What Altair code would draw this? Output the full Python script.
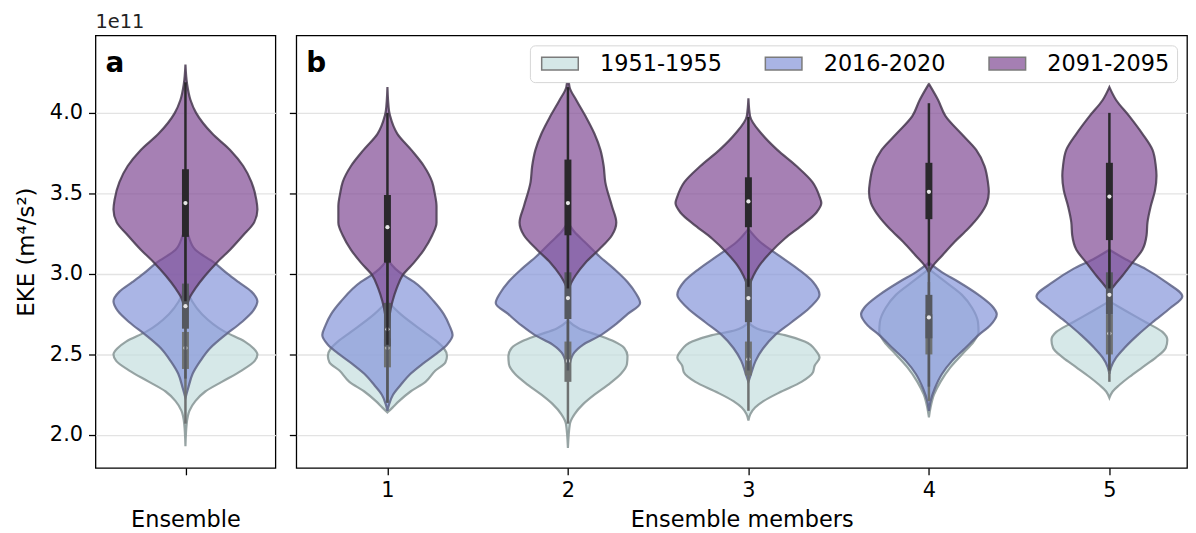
import altair as alt
import pandas as pd

PERIODS = ["1951-1955", "2016-2020", "2091-2095"]
FILL = ["#c4dede", "#8695da", "#804a94"]
STROKE = ["#869494", "#5e6386", "#47384f"]
BOXC = ["#6f7272", "#55585f", "#2a282c"]
GROUPS = ["Ensemble", "1", "2", "3", "4", "5"]

# Violin outlines: EKE level (1e11 m^4/s^2) and density half-width
ens_2091_y = [4.30, 4.18, 4.08, 4.00, 3.87, 3.77, 3.67, 3.57, 3.46, 3.40, 3.32, 3.24, 3.15, 3.07, 2.99, 2.91, 2.85, 2.79, 2.75]
ens_2091_w = [0, .009, .028, .059, .150, .248, .321, .367, .394, .400, .382, .321, .248, .174, .110, .055, .022, .007, 0]
ens_2016_y = [3.28, 3.24, 3.15, 3.07, 3.00, 2.95, 2.89, 2.83, 2.77, 2.70, 2.62, 2.54, 2.46, 2.38, 2.29, 2.23]
ens_2016_w = [0, .015, .055, .160, .235, .294, .367, .400, .376, .312, .220, .138, .083, .040, .015, 0]
ens_1951_y = [2.95, 2.91, 2.83, 2.75, 2.64, 2.58, 2.54, 2.50, 2.46, 2.40, 2.33, 2.27, 2.21, 2.15, 2.07, 1.93]
ens_1951_w = [0, .009, .037, .092, .220, .330, .376, .400, .385, .312, .202, .110, .055, .022, .007, 0]

m1_2091_y = [4.16, 4.01, 3.98, 3.87, 3.77, 3.67, 3.57, 3.50, 3.42, 3.32, 3.24, 3.15, 3.07, 2.99, 2.91, 2.83, 2.75, 2.66, 2.60]
m1_2091_w = [0, .009, .015, .055, .132, .202, .248, .262, .272, .272, .248, .202, .147, .083, .051, .028, .013, .006, 0]
m1_2016_y = [3.09, 3.03, 2.99, 2.95, 2.83, 2.75, 2.68, 2.62, 2.56, 2.50, 2.44, 2.38, 2.31, 2.25, 2.19, 2.15]
m1_2016_w = [0, .046, .092, .147, .257, .312, .343, .361, .330, .266, .193, .128, .073, .031, .009, 0]
m1_1951_y = [2.83, 2.75, 2.64, 2.58, 2.54, 2.49, 2.45, 2.40, 2.33, 2.27, 2.21, 2.17, 2.14]
m1_1951_w = [0, .073, .202, .275, .312, .330, .321, .266, .211, .128, .064, .028, 0]

m2_2091_y = [4.26, 4.16, 4.08, 3.98, 3.87, 3.77, 3.67, 3.57, 3.42, 3.32, 3.24, 3.15, 3.07, 2.99, 2.92, 2.88]
m2_2091_w = [0, .009, .046, .097, .147, .180, .198, .207, .244, .268, .244, .171, .097, .042, .009, 0]
m2_2016_y = [3.32, 3.26, 3.20, 3.11, 3.03, 2.95, 2.88, 2.82, 2.75, 2.68, 2.62, 2.56, 2.50, 2.42, 2.33]
m2_2016_w = [0, .037, .092, .174, .257, .330, .376, .400, .330, .257, .183, .083, .028, .007, 0]
m2_1951_y = [2.71, 2.66, 2.62, 2.58, 2.54, 2.49, 2.44, 2.38, 2.31, 2.25, 2.19, 2.13, 2.07, 1.92]
m2_1951_w = [0, .064, .165, .257, .312, .330, .327, .294, .220, .147, .083, .037, .011, 0]

m3_2091_y = [4.09, 3.98, 3.87, 3.77, 3.67, 3.57, 3.48, 3.44, 3.38, 3.30, 3.22, 3.13, 3.05, 2.99, 2.93, 2.91]
m3_2091_w = [0, .009, .073, .160, .266, .355, .394, .404, .376, .294, .202, .119, .059, .028, .006, 0]
m3_2016_y = [3.28, 3.20, 3.11, 3.03, 2.95, 2.87, 2.79, 2.70, 2.62, 2.54, 2.46, 2.38, 2.33]
m3_2016_w = [0, .064, .174, .275, .358, .394, .339, .239, .147, .083, .040, .015, 0]
m3_1951_y = [2.70, 2.65, 2.62, 2.58, 2.52, 2.48, 2.43, 2.39, 2.33, 2.27, 2.21, 2.17, 2.13, 2.09]
m3_1951_w = [0, .073, .202, .312, .376, .394, .367, .358, .294, .183, .083, .037, .011, 0]

m4_2091_y = [4.18, 4.08, 3.98, 3.87, 3.77, 3.67, 3.57, 3.51, 3.44, 3.36, 3.28, 3.20, 3.11, 3.05, 3.01]
m4_2091_w = [0, .051, .092, .180, .262, .308, .327, .332, .321, .279, .217, .143, .070, .022, 0]
m4_2016_y = [3.07, 3.01, 2.95, 2.87, 2.79, 2.75, 2.68, 2.62, 2.54, 2.46, 2.38, 2.29, 2.21, 2.15]
m4_2016_w = [0, .073, .165, .275, .358, .376, .339, .275, .202, .128, .073, .033, .009, 0]
m4_1951_y = [3.03, 2.95, 2.87, 2.79, 2.70, 2.64, 2.58, 2.50, 2.42, 2.33, 2.25, 2.17, 2.11]
m4_1951_w = [0, .092, .183, .239, .272, .275, .248, .183, .119, .064, .028, .009, 0]

m5_2091_y = [4.16, 4.08, 3.98, 3.87, 3.77, 3.67, 3.61, 3.52, 3.42, 3.32, 3.24, 3.15, 3.07, 2.99, 2.93, 2.89]
m5_2091_w = [0, .037, .110, .183, .239, .257, .261, .253, .229, .211, .206, .183, .128, .073, .028, 0]
m5_2016_y = [3.15, 3.09, 3.03, 2.95, 2.86, 2.79, 2.70, 2.62, 2.54, 2.48, 2.42, 2.38]
m5_2016_w = [0, .092, .202, .312, .404, .339, .239, .156, .083, .037, .009, 0]
m5_1951_y = [2.83, 2.77, 2.70, 2.64, 2.59, 2.54, 2.48, 2.42, 2.36, 2.31, 2.27, 2.23]
m5_1951_w = [0, .092, .202, .294, .321, .312, .257, .183, .110, .055, .018, 0]

# Inner box statistics per group (Ensemble, 1..5)
Q1_1951 = [2.41, 2.42, 2.33, 2.37, 2.50, 2.50]
Q3_1951 = [2.64, 2.60, 2.58, 2.58, 2.75, 2.75]
MED_1951 = [2.54, 2.54, 2.46, 2.47, 2.65, 2.63]
LO_1951 = [2.07, 2.20, 2.07, 2.15, 2.21, 2.33]
HI_1951 = [2.95, 2.83, 2.70, 2.70, 2.95, 2.80]

Q1_2016 = [2.66, 2.55, 2.72, 2.70, 2.60, 2.75]
Q3_2016 = [2.94, 2.82, 3.01, 2.97, 2.87, 3.01]
MED_2016 = [2.80, 2.656, 2.85, 2.85, 2.73, 2.87]
LO_2016 = [2.35, 2.20, 2.40, 2.40, 2.30, 2.40]
HI_2016 = [3.22, 3.09, 3.25, 3.25, 3.05, 3.15]

Q1_2091 = [3.23, 3.07, 3.24, 3.29, 3.34, 3.21]
Q3_2091 = [3.65, 3.49, 3.71, 3.60, 3.69, 3.69]
MED_2091 = [3.44, 3.29, 3.44, 3.45, 3.51, 3.48]
LO_2091 = [2.83, 2.56, 2.91, 2.92, 3.05, 2.91]
HI_2091 = [4.19, 4.00, 4.16, 3.975, 4.06, 4.00]

violin_sets = {
    ("Ensemble", "1951-1955"): (ens_1951_y, ens_1951_w),
    ("Ensemble", "2016-2020"): (ens_2016_y, ens_2016_w),
    ("Ensemble", "2091-2095"): (ens_2091_y, ens_2091_w),
    ("1", "1951-1955"): (m1_1951_y, m1_1951_w),
    ("1", "2016-2020"): (m1_2016_y, m1_2016_w),
    ("1", "2091-2095"): (m1_2091_y, m1_2091_w),
    ("2", "1951-1955"): (m2_1951_y, m2_1951_w),
    ("2", "2016-2020"): (m2_2016_y, m2_2016_w),
    ("2", "2091-2095"): (m2_2091_y, m2_2091_w),
    ("3", "1951-1955"): (m3_1951_y, m3_1951_w),
    ("3", "2016-2020"): (m3_2016_y, m3_2016_w),
    ("3", "2091-2095"): (m3_2091_y, m3_2091_w),
    ("4", "1951-1955"): (m4_1951_y, m4_1951_w),
    ("4", "2016-2020"): (m4_2016_y, m4_2016_w),
    ("4", "2091-2095"): (m4_2091_y, m4_2091_w),
    ("5", "1951-1955"): (m5_1951_y, m5_1951_w),
    ("5", "2016-2020"): (m5_2016_y, m5_2016_w),
    ("5", "2091-2095"): (m5_2091_y, m5_2091_w),
}

def group_pos(g):
    return ("a", 0) if g == "Ensemble" else ("b", int(g))

rows = []
for (g, p), (ys, ws) in violin_sets.items():
    panel, pos = group_pos(g)
    for v, w in zip(ys, ws):
        rows.append({"panel": panel, "pos": pos, "period": p, "v": v, "w": w,
                     "key": f"{g}|{p}"})
vio_df = pd.DataFrame(rows).sort_values(["key", "v"]).reset_index(drop=True)

stats = {
    "1951-1955": (Q1_1951, Q3_1951, MED_1951, LO_1951, HI_1951),
    "2016-2020": (Q1_2016, Q3_2016, MED_2016, LO_2016, HI_2016),
    "2091-2095": (Q1_2091, Q3_2091, MED_2091, LO_2091, HI_2091),
}
brows = []
for p, (q1, q3, md, lo, hi) in stats.items():
    for i, g in enumerate(GROUPS):
        panel, pos = group_pos(g)
        brows.append({"panel": panel, "pos": pos, "period": p, "q1": q1[i], "q3": q3[i],
                      "med": md[i], "lo": lo[i], "hi": hi[i]})
box_df = pd.DataFrame(brows)

FONT = "DejaVu Sans"
color_scale = alt.Scale(domain=PERIODS, range=FILL)
yscale = alt.Scale(domain=[1.796, 4.481], nice=False, zero=False)


def panel(pid, width, xdom, xvals, xlabels, xtitle, xtitlepad, ylabels, letter, legend, extra_text=None):
    xscale = alt.Scale(domain=xdom, nice=False, zero=False)
    xaxis = alt.Axis(values=xvals, labels=xlabels, format="d", title=xtitle, grid=False,
                     tickSize=7, labelPadding=5, labelFontSize=21, titleFontSize=22.5,
                     titlePadding=xtitlepad, domain=False)
    yaxis = alt.Axis(values=[2.0, 2.5, 3.0, 3.5, 4.0], format=".1f", labels=ylabels,
                     title="EKE (m⁴/s²)" if ylabels else None, grid=True, gridColor="#e3e3e3",
                     gridWidth=1.3, tickSize=7, labelPadding=6, labelFontSize=21,
                     titleFontSize=23, titlePadding=11, domain=False)

    def X(f):
        return alt.X(f, type="quantitative", scale=xscale, axis=xaxis)

    def Y(f):
        return alt.Y(f, type="quantitative", scale=yscale, axis=yaxis)

    layers = []
    for i, p in enumerate(PERIODS):
        layers.append(
            alt.Chart(vio_df)
            .transform_filter((alt.datum.panel == pid) & (alt.datum.period == p))
            .transform_calculate(left="datum.pos - datum.w", right="datum.pos + datum.w")
            .mark_area(orient="horizontal", interpolate="monotone", fillOpacity=0.7,
                       stroke=STROKE[i], strokeWidth=2.2, strokeOpacity=0.85)
            .encode(x=X("left"), x2=alt.X2("right"), y=Y("v"),
                    color=alt.Color("period:N", scale=color_scale, legend=legend),
                    detail="key:N")
        )
    for i, p in enumerate(PERIODS):
        base = alt.Chart(box_df).transform_filter((alt.datum.panel == pid) & (alt.datum.period == p))
        layers.append(base.mark_rule(color=BOXC[i], strokeWidth=2.5)
                      .encode(x=X("pos"), y=Y("lo"), y2=alt.Y2("hi")))
        layers.append(base.mark_rule(color=BOXC[i], strokeWidth=7, strokeCap="butt")
                      .encode(x=X("pos"), y=Y("q1"), y2=alt.Y2("q3")))
        layers.append(base.mark_point(filled=True, color="#e6e6e6", size=18, opacity=1)
                      .encode(x=X("pos"), y=Y("med")))
    layers.append(
        alt.Chart(pd.DataFrame({"t": [letter]}))
        .mark_text(align="left", baseline="alphabetic", fontSize=28, fontWeight="bold",
                   font=FONT, color="black")
        .encode(text="t:N", x=alt.value(10), y=alt.value(37))
    )
    if extra_text:
        layers.append(
            alt.Chart(pd.DataFrame({"t": [extra_text]}))
            .mark_text(align="left", baseline="alphabetic", fontSize=19.5, font=FONT, color="#222")
            .encode(text="t:N", x=alt.value(0), y=alt.value(-7))
        )
    return alt.layer(*layers).properties(width=width, height=435)


legend_b = alt.Legend(
    title=None, orient="top-right", direction="horizontal",
    symbolType="M-2.3,-0.8H2.3V0.8H-2.3Z", symbolSize=256, symbolOpacity=0.7,
    symbolOffset=12,
    symbolStrokeColor="#444", symbolStrokeWidth=1.5,
    labelFontSize=22.5, labelFont=FONT, labelColor="black", labelOffset=29,
    columnPadding=38, fillColor="white", strokeColor="#d6d6d6", cornerRadius=5,
    padding=7, offset=10,
)

pa = panel("a", 181, [-0.5, 0.5], [0], False, "Ensemble", 33, True, "a", None, extra_text="1e11")
pb = panel("b", 896, [0.495, 5.43], [1, 2, 3, 4, 5], True, "Ensemble members", 8, False, "b", legend_b)

chart = (
    alt.hconcat(pa, pb, spacing=11)
    .resolve_scale(color="independent")
    .properties(padding={"left": 6, "top": 2, "right": 0, "bottom": 0})
    .configure(font=FONT)
    .configure_view(stroke="black", strokeWidth=1.3)
    .configure_axis(labelColor="black", titleColor="black", tickColor="black",
                    titleFontWeight="normal", labelFont=FONT, titleFont=FONT, tickWidth=1.3)
)

chart.save("out.html", embed_options={"renderer": "svg", "actions": False})
